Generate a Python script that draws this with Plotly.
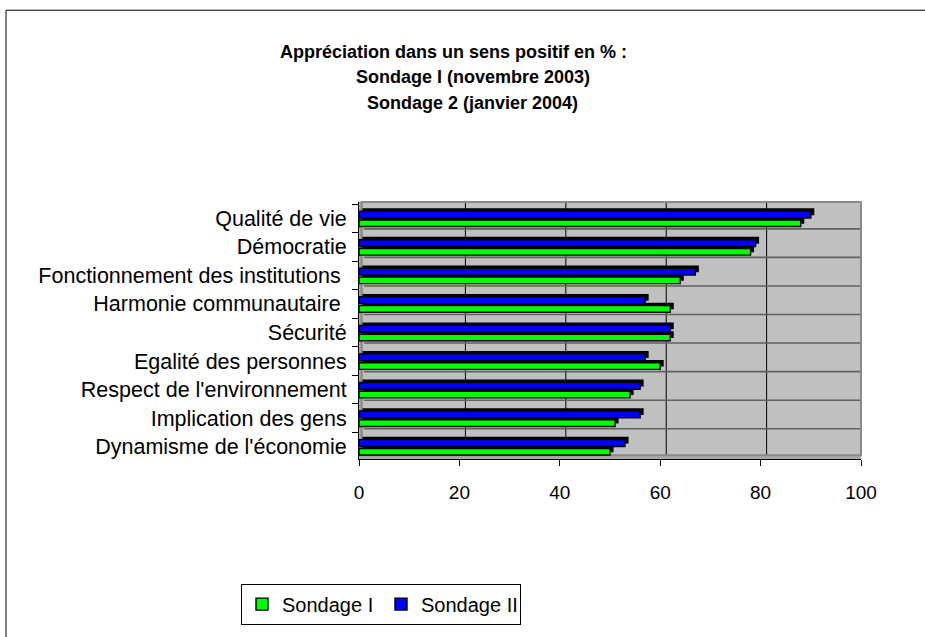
import plotly.graph_objects as go

# ---------------- data ----------------
categories = [
    "Qualité de vie",
    "Démocratie",
    "Fonctionnement des institutions\u00a0",
    "Harmonie communautaire\u00a0",
    "Sécurité",
    "Egalité des personnes",
    "Respect de l'environnement",
    "Implication des gens",
    "Dynamisme de l'économie",
]
sondage_1 = [88, 78, 64, 62, 62, 60, 54, 51, 50]
sondage_2 = [90, 79, 67, 57, 62, 57, 56, 56, 53]
series_names = ["Sondage I", "Sondage II"]
x_ticks = [0, 20, 40, 60, 80, 100]
title_lines = [
    "Appréciation dans un sens positif en % :",
    "Sondage I (novembre 2003)",
    "Sondage 2 (janvier 2004)",
]

GREEN = "#00FF00"
BLUE = "#0000FF"
FONT = "Liberation Sans, Arial, sans-serif"

# pseudo-3D depth (shadow of each bar)
DEPTH_X = 0.7   # in % units
DEPTH_Y = 0.1   # in category units

fig = go.Figure()

specs = [
    # name, values, color, offset, width
    (series_names[1], sondage_2, BLUE, -0.25, 0.24),
    (series_names[0], sondage_1, GREEN, 0.06, 0.23),
]

# shadows (top + right faces)
for name, vals, color, off, w in specs:
    fig.add_trace(go.Bar(
        y=categories, x=vals, orientation="h", base=DEPTH_X,
        offset=off - DEPTH_Y, width=w,
        marker=dict(color="#000000", line=dict(width=0)),
        showlegend=False, hoverinfo="skip",
    ))

# front faces
for name, vals, color, off, w in specs:
    fig.add_trace(go.Bar(
        y=categories, x=vals, orientation="h", name=name,
        offset=off, width=w,
        marker=dict(color=color, line=dict(color="#000000", width=1.4)),
        legendrank=1 if name == series_names[0] else 2,
    ))

shapes = []
# left wall strip and floor strip
shapes.append(dict(type="rect", xref="x", yref="paper", x0=0, x1=DEPTH_X + 0.1, y0=0, y1=1,
                   fillcolor="#a8a8a8", line=dict(width=0), layer="below"))
shapes.append(dict(type="rect", xref="x", yref="paper", x0=0, x1=100, y0=0, y1=0.015,
                   fillcolor="#a8a8a8", line=dict(width=0), layer="below"))
# back-wall vertical gridlines
for g in x_ticks[1:-1]:
    shapes.append(dict(type="line", xref="x", yref="paper", x0=g + 1.2, x1=g + 1.2, y0=0.015, y1=1,
                       line=dict(color="#000000", width=1), layer="below"))
# back-wall horizontal category boundaries
for i in range(len(categories) - 1):
    shapes.append(dict(type="line", xref="paper", yref="y", x0=0.01, x1=1,
                       y0=i + 0.5 - 0.13, y1=i + 0.5 - 0.13,
                       line=dict(color="#606060", width=1.6), layer="below"))
# back wall border (top / right)
shapes.append(dict(type="rect", xref="paper", yref="paper", x0=0.005, x1=1, y0=0.015, y1=1,
                   line=dict(color="#8a8a8a", width=2), layer="below"))
# outer chart frame
shapes.append(dict(type="rect", xref="paper", yref="paper",
                   x0=(6 - 359) / 502, x1=1.5, y0=-0.9, y1=(466 - 5) / 264,
                   line=dict(color="#000000", width=1), fillcolor="rgba(0,0,0,0)", layer="above"))

annotations = []
title_x_px = [453, 473, 472]
title_y_px = [48, 74, 100]
for line, xpx, ypx in zip(title_lines, title_x_px, title_y_px):
    annotations.append(dict(
        text="<b>" + line + "</b>", xref="paper", yref="paper",
        x=(xpx - 359) / 502, y=(466 - ypx) / 264, xanchor="center", yanchor="middle",
        showarrow=False, font=dict(family=FONT, size=18, color="#000000"),
    ))

fig.update_layout(
    width=925, height=637,
    margin=dict(l=359, r=64, t=202, b=171, pad=0),
    paper_bgcolor="#ffffff", plot_bgcolor="#c0c0c0",
    barmode="overlay",
    font=dict(family=FONT, size=20, color="#000000"),
    shapes=shapes, annotations=annotations,
    showlegend=True,
    legend=dict(
        orientation="h", x=(381 - 359) / 502, xanchor="center",
        y=(466 - 594) / 264, yanchor="top",
        bordercolor="#000000", borderwidth=1, bgcolor="#ffffff",
        font=dict(family=FONT, size=20), itemwidth=30, traceorder="normal",
        entrywidth=94, entrywidthmode="pixels",
    ),
    xaxis=dict(
        range=[0, 100], tickvals=x_ticks, ticktext=[str(v) for v in x_ticks],
        showgrid=False, zeroline=False, showline=True, linecolor="#000000", linewidth=1,
        ticks="outside", ticklen=6, tickcolor="#000000", ticklabelstandoff=10,
        tickfont=dict(family=FONT, size=19),
    ),
    yaxis=dict(
        type="category", categoryorder="array", categoryarray=categories,
        range=[8.43, -0.57], showgrid=False, zeroline=False,
        showline=True, linecolor="#000000", linewidth=1,
        ticks="outside", ticklen=6, tickcolor="#000000", tickson="boundaries",
        ticklabelstandoff=7, tickfont=dict(family=FONT, size=21.5),
    ),
)

fig.write_html("out.html", config={"displayModeBar": False},
               post_script="document.body.style.margin='0px';")
